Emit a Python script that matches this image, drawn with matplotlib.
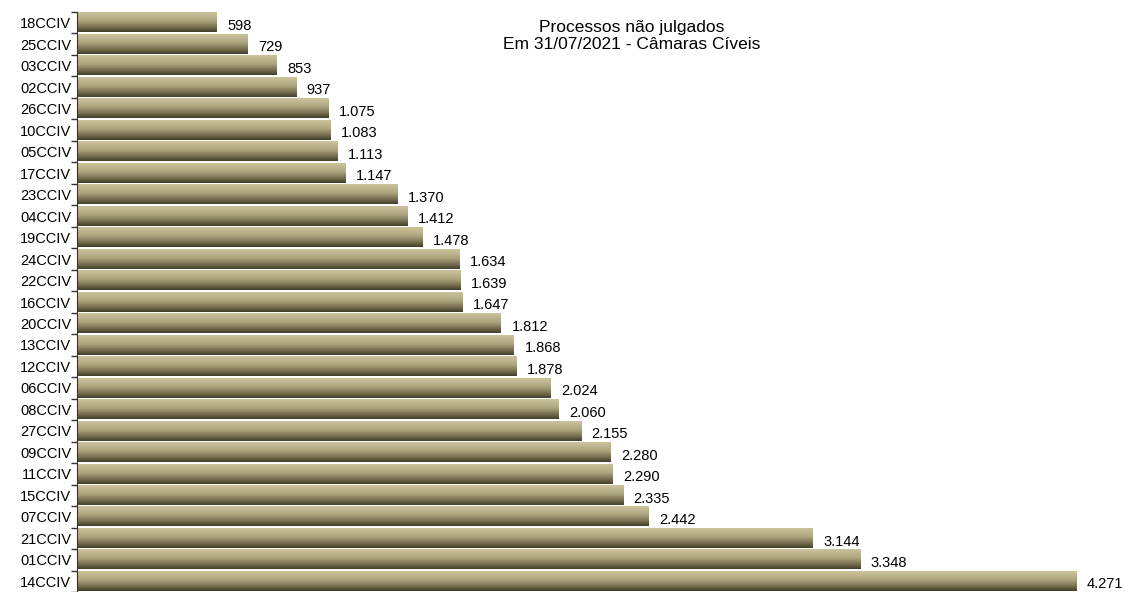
import numpy as np
import matplotlib.pyplot as plt
from matplotlib.colors import LinearSegmentedColormap

camaras = ['18CCIV', '25CCIV', '03CCIV', '02CCIV', '26CCIV', '10CCIV', '05CCIV', '17CCIV',
           '23CCIV', '04CCIV', '19CCIV', '24CCIV', '22CCIV', '16CCIV', '20CCIV', '13CCIV',
           '12CCIV', '06CCIV', '08CCIV', '27CCIV', '09CCIV', '11CCIV', '15CCIV', '07CCIV',
           '21CCIV', '01CCIV', '14CCIV']
processos = [598, 729, 853, 937, 1075, 1083, 1113, 1147, 1370, 1412, 1478, 1634, 1639, 1647,
             1812, 1868, 1878, 2024, 2060, 2155, 2280, 2290, 2335, 2442, 3144, 3348, 4271]

plt.rcParams['font.family'] = ['Liberation Sans', 'DejaVu Sans']

fig = plt.figure(figsize=(11.25, 5.92), dpi=100)
ax = fig.add_axes([77/1125, 0.0, 1 - 77/1125, 1 - 12/592])

# vertical gradient: light tan at top, dark olive at bottom
cmap = LinearSegmentedColormap.from_list('tan', [(0.0, '#c9c29c'), (0.12, '#c4bc94'),
                                                 (0.45, '#aca47e'), (0.8, '#6e6749'),
                                                 (1.0, '#423d2a')])
grad = np.linspace(0, 1, 64).reshape(-1, 1)

h = 0.9
for i, v in enumerate(processos):
    ax.imshow(grad, cmap=cmap, aspect='auto', extent=[0, v, i + h/2, i - h/2],
              interpolation='bilinear', zorder=2)
    ax.text(v + 45, i + 0.15, f'{v:,}'.replace(',', '.'), va='center', ha='left',
            fontsize=10.5)

ax.set_xlim(0, 4480)
ax.set_ylim(len(camaras) - 0.5, -0.5)
ax.set_yticks(range(len(camaras)))
ax.set_yticklabels(camaras, fontsize=10.5)
ax.set_yticks(np.arange(-0.5, len(camaras)), minor=True)
ax.tick_params(axis='y', which='major', length=0, pad=4)
ax.tick_params(axis='y', which='minor', length=4, width=1, color='#333333')
ax.set_xticks([])
for s in ['top', 'right', 'bottom']:
    ax.spines[s].set_visible(False)
ax.spines['left'].set_color('#333333')

fig.text(632/1125, 1 - 36/592, 'Processos não julgados\nEm 31/07/2021 - Câmaras Cíveis',
         ha='center', va='center', fontsize=12.5, linespacing=1.2)

fig.savefig('out.png', dpi=100)
